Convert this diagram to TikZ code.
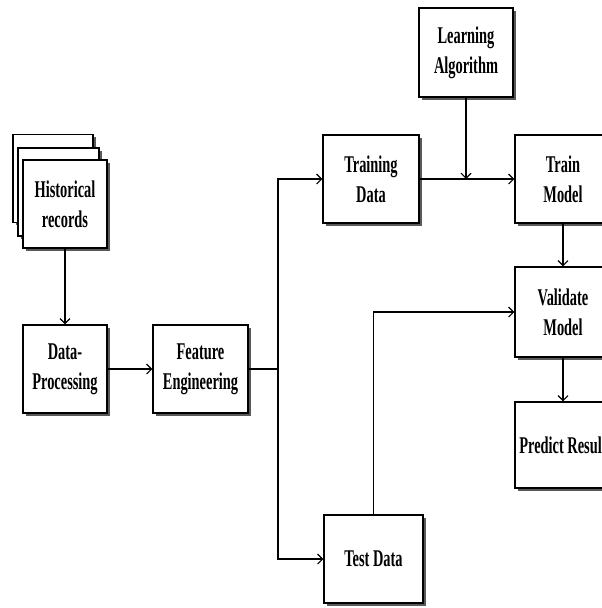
\documentclass[tikz,border=0pt]{standalone}
\usepackage{fontspec}
\setmainfont{Liberation Serif}[FakeStretch=0.6]
\usetikzlibrary{shadows,arrows.meta}

\tikzset{
  blk/.style={draw, line width=1.4pt, fill=white, align=center,
    minimum width=#1, minimum height=88pt, inner sep=2pt,
    drop shadow={shadow xshift=2.5pt, shadow yshift=-2.5pt, fill=black!65, opacity=1},
    font=\bfseries\fontsize{24}{30}\selectfont},
  blk/.default=95pt,
  flow/.style={line width=1.1pt, ->}
}

\begin{document}
\begin{tikzpicture}[x=1pt, y=-1pt, >={Straight Barb[length=5pt,width=10pt]}]
    \useasboundingbox (0,0) rectangle (602,608);
    \clip (0,0) rectangle (602,608);
    % stacked records
    \node [blk=80pt] (hist3) at (53,178.5) {};
    \node [blk=81pt] (hist2) at (58.5,192) {};
    \node [blk=84pt] (hist) at (65,204) {Historical\\records};
    \node [blk=84pt] (dp) at (65,369) {Data-\\Processing};
    \node [blk] (fe) at (200.5,369) {Feature\\Engineering};
    \node [blk=96pt] (train) at (371,179) {Training\\Data};
    \node [blk=94pt, minimum height=89pt] (la) at (466,52.5) {Learning\\Algorithm};
    \node [blk=96pt] (tm) at (563,179) {Train\\Model};
    \node [blk=96pt, minimum height=90pt] (vm) at (563,312) {Validate\\Model};
    \node [blk=96pt, minimum height=86pt] (pr) at (563,445) {Predict Result};
    \node [blk=99pt] (test) at (373.5,559) {Test Data};
    \coordinate (split) at (278,369);
    \coordinate (merge) at (la.south |- train.east);
    \draw [flow] (hist) -- (dp);
    \draw [flow] (dp) -- (fe);
    \draw [line width=1.1pt] (fe) -- (split);
    \draw [flow] (split) |- (train);
    \draw [flow] (split) |- (test);
    \draw [flow] (train) -- (tm);
    \draw [flow] (la) -- (merge);
    \draw [flow] (tm) -- (vm);
    \draw [flow] (vm) -- (pr);
    \draw [flow] (test.north) |- (vm);
\end{tikzpicture}
\end{document}
